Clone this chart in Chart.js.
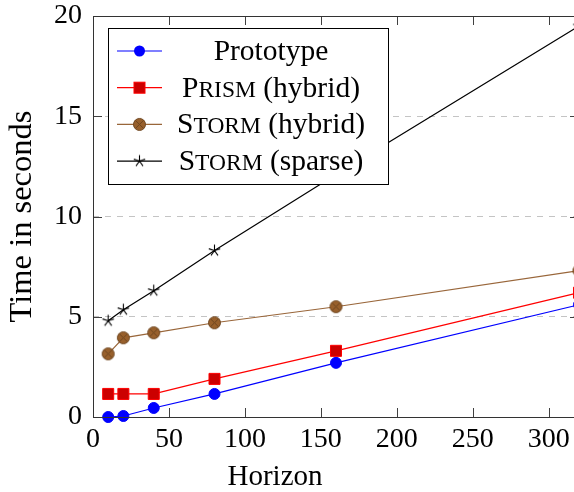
<!DOCTYPE html>
<html>
<head>
<meta charset="utf-8">
<script src="https://cdn.jsdelivr.net/npm/chart.js@4/dist/chart.umd.min.js"></script>
<style>
  html, body { margin: 0; padding: 0; overflow: hidden; background: #fff; }
  #wrap { width: 600px; height: 492px; }
</style>
</head>
<body>
<div id="wrap"><canvas id="timeChart" width="600" height="492"></canvas></div>
<script>
    "use strict";

    var horizons = [10, 20, 40, 80, 160, 320];
    var prototype = [0.0, 0.05, 0.45, 1.15, 2.7, 5.6];
    var prismHybrid = [1.15, 1.15, 1.15, 1.9, 3.3, 6.2];
    var stormHybrid = [3.15, 3.95, 4.2, 4.7, 5.5, 7.3];
    var stormSparse = [4.8, 5.35, 6.3, 8.3, 12.1, 19.5];
    var xTicks = [0, 50, 100, 150, 200, 250, 300];
    var yTicks = [0, 5, 10, 15, 20];

    var serif = "'Liberation Serif', 'DejaVu Serif', serif";
    var brown = "#99663a";

    function pairs(ys) {
        return horizons.map(function (x, i) { return {x: x, y: ys[i]}; });
    }

    // five armed asterisk, like the pgfplots star
    function makeStar() {
        var c = document.createElement('canvas');
        c.width = 15; c.height = 15;
        var g = c.getContext('2d');
        g.strokeStyle = '#000';
        g.lineWidth = 1.1;
        g.beginPath();
        for (var k = 0; k < 5; k++) {
            var a = -Math.PI / 2 + k * 2 * Math.PI / 5;
            g.moveTo(7.5, 7.5);
            g.lineTo(7.5 + 6 * Math.cos(a), 7.5 + 6 * Math.sin(a));
        }
        g.stroke();
        return c;
    }

    // filled circle with a cross inside (otimes*)
    function makeOtimes() {
        var c = document.createElement('canvas');
        c.width = 15; c.height = 15;
        var g = c.getContext('2d');
        g.fillStyle = '#98602c';
        g.strokeStyle = '#6e4620';
        g.lineWidth = 1;
        g.beginPath();
        g.arc(7.5, 7.5, 6, 0, Math.PI * 2);
        g.fill();
        g.stroke();
        var d = 6 * Math.SQRT1_2;
        g.beginPath();
        g.moveTo(7.5 - d, 7.5 - d); g.lineTo(7.5 + d, 7.5 + d);
        g.moveTo(7.5 + d, 7.5 - d); g.lineTo(7.5 - d, 7.5 + d);
        g.stroke();
        return c;
    }

    var starImg = makeStar();
    var otimesImg = makeOtimes();

    // legend entries; small caps parts are [big, small, rest]
    var legendItems = [
        {parts: ['Prototype', '', ''], color: '#0000ff', style: 'circle'},
        {parts: ['P', 'RISM', ' (hybrid)'], color: '#ff0000', style: 'rect'},
        {parts: ['S', 'TORM', ' (hybrid)'], color: brown, style: otimesImg},
        {parts: ['S', 'TORM', ' (sparse)'], color: '#000000', style: starImg}
    ];

    var framePlugin = {
        id: 'frame',
        afterDraw: function (chart) {
            var ctx = chart.ctx;
            var a = chart.chartArea;
            var xs = chart.scales.x, ys = chart.scales.y;
            ctx.save();
            ctx.strokeStyle = '#404040';
            ctx.lineWidth = 1;
            ctx.beginPath();
            xTicks.forEach(function (v) {
                var px = Math.round(xs.getPixelForValue(v)) + 0.5;
                ctx.moveTo(px, a.bottom); ctx.lineTo(px, a.bottom - 9);
                ctx.moveTo(px, a.top); ctx.lineTo(px, a.top + 9);
            });
            yTicks.forEach(function (v) {
                var py = Math.round(ys.getPixelForValue(v)) + 0.5;
                ctx.moveTo(a.left, py); ctx.lineTo(a.left + 9, py);
                ctx.moveTo(a.right, py); ctx.lineTo(a.right - 9, py);
            });
            ctx.stroke();
            ctx.strokeStyle = '#333';
            ctx.strokeRect(Math.round(a.left) + 0.5, Math.round(a.top) + 0.5,
                Math.round(a.right - a.left), Math.round(a.bottom - a.top));

            // x axis title, placed as in the figure
            ctx.fillStyle = '#000';
            ctx.font = '29px ' + serif;
            ctx.textAlign = 'center';
            ctx.textBaseline = 'alphabetic';
            ctx.fillText('Horizon', 275, 485);

            // legend box
            var bx = 108.5, by = 28.5, bw = 280, bh = 156;
            ctx.fillStyle = '#fff';
            ctx.fillRect(bx, by, bw, bh);
            ctx.strokeStyle = '#000';
            ctx.strokeRect(bx, by, bw, bh);
            legendItems.forEach(function (it, i) {
                var cy = 51 + i * 36.7;
                ctx.strokeStyle = it.color;
                ctx.lineWidth = 1.2;
                ctx.beginPath();
                ctx.moveTo(117, cy); ctx.lineTo(162, cy);
                ctx.stroke();
                var mx = 139.5;
                if (it.style === 'circle') {
                    ctx.fillStyle = '#0000ff';
                    ctx.beginPath(); ctx.arc(mx, cy, 5.5, 0, Math.PI * 2); ctx.fill();
                } else if (it.style === 'rect') {
                    ctx.fillStyle = '#cc0000';
                    ctx.strokeStyle = '#ff0000';
                    ctx.lineWidth = 1;
                    ctx.fillRect(mx - 5.5, cy - 5.5, 11, 11);
                    ctx.strokeRect(mx - 5.5, cy - 5.5, 11, 11);
                } else {
                    ctx.drawImage(it.style, mx - it.style.width / 2, cy - it.style.height / 2);
                }
                var big = '29.5px ' + serif, small = '23.5px ' + serif;
                ctx.font = big;
                var w0 = ctx.measureText(it.parts[0]).width;
                var w2 = ctx.measureText(it.parts[2]).width;
                ctx.font = small;
                var w1 = ctx.measureText(it.parts[1]).width;
                var tx = 271 - (w0 + w1 + w2) / 2;
                var base = cy + 9;
                ctx.fillStyle = '#000';
                ctx.textAlign = 'left';
                ctx.font = big;
                ctx.fillText(it.parts[0], tx, base);
                ctx.font = small;
                ctx.fillText(it.parts[1], tx + w0, base);
                ctx.font = big;
                ctx.fillText(it.parts[2], tx + w0 + w1, base);
            });
            ctx.restore();
        }
    };

    var ctx1 = document.getElementById('timeChart').getContext('2d');
    var myChart1 = new Chart(ctx1, {
        type: 'line',
        data: {
            datasets: [{
                    label: 'Prototype',
                    data: pairs(prototype),
                    borderColor: '#0000ff',
                    backgroundColor: '#0000ff',
                    pointStyle: 'circle',
                    pointRadius: 5.5,
                    pointBorderWidth: 1
                },
                {
                    label: 'Prism (hybrid)',
                    data: pairs(prismHybrid),
                    borderColor: '#ff0000',
                    backgroundColor: '#cc0000',
                    pointBorderColor: '#ff0000',
                    pointStyle: 'rect',
                    pointRadius: 7.8,
                    pointBorderWidth: 1
                },
                {
                    label: 'Storm (hybrid)',
                    data: pairs(stormHybrid),
                    borderColor: brown,
                    backgroundColor: brown,
                    pointStyle: otimesImg
                },
                {
                    label: 'Storm (sparse)',
                    data: pairs(stormSparse),
                    borderColor: '#000000',
                    backgroundColor: '#000000',
                    pointStyle: starImg
                }
            ]
        },
        plugins: [framePlugin],
        options: {
            responsive: false,
            animation: false,
            layout: {padding: {top: 16, right: 21, left: 0, bottom: 0}},
            elements: {line: {borderWidth: 1.2, tension: 0, fill: false}},
            datasets: {line: {clip: false}},
            plugins: {legend: {display: false}, tooltip: {enabled: false}},
            scales: {
                x: {
                    type: 'linear',
                    min: 0,
                    max: 320,
                    afterBuildTicks: function (s) {
                        s.ticks = xTicks.map(function (v) { return {value: v}; });
                    },
                    afterFit: function (s) { s.height = 75; },
                    grid: {display: false, drawTicks: false},
                    border: {display: false},
                    ticks: {
                        padding: 6,
                        maxRotation: 0,
                        color: '#000',
                        font: {family: serif, size: 28}
                    }
                },
                y: {
                    type: 'linear',
                    min: 0,
                    max: 20,
                    afterBuildTicks: function (s) {
                        s.ticks = yTicks.map(function (v) { return {value: v}; });
                    },
                    afterFit: function (s) {
                        s.width = 93;
                        s.paddingTop = 0;
                        s.paddingBottom = 0;
                    },
                    grid: {
                        drawTicks: false,
                        color: function (c) {
                            var v = c.tick ? c.tick.value : 0;
                            return (v > 0 && v < 20) ? '#c4c4c4' : 'rgba(0,0,0,0)';
                        }
                    },
                    border: {display: false, dash: [6, 6]},
                    title: {
                        display: true,
                        text: 'Time in seconds',
                        color: '#000',
                        font: {family: serif, size: 32.5},
                        padding: {top: 3, bottom: 0}
                    },
                    ticks: {
                        padding: 11,
                        color: '#000',
                        font: {family: serif, size: 28}
                    }
                }
            }
        }
    });
</script>
</body>
</html>
